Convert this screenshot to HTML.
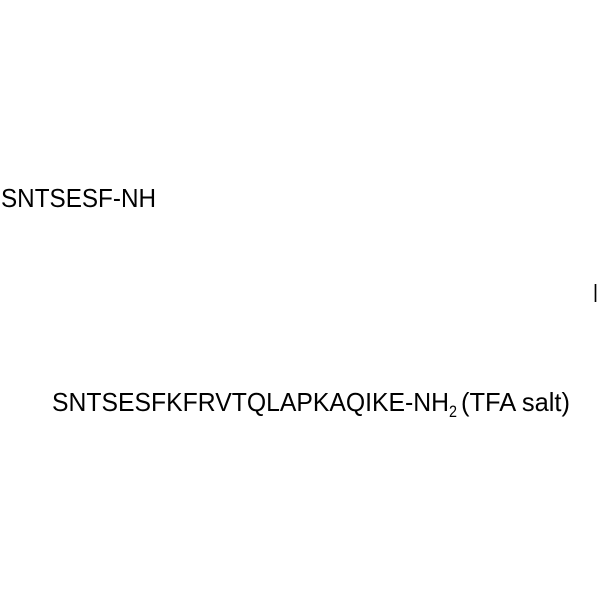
<!DOCTYPE html>
<html><head><meta charset="utf-8"><style>
html,body{margin:0;padding:0;background:#fff;width:600px;height:600px;overflow:hidden}
</style></head><body>
<svg width="600" height="600" xmlns="http://www.w3.org/2000/svg" font-family="Liberation Sans, Arial, sans-serif" font-size="26" fill="#000">
<rect width="600" height="600" fill="#fff"/>
<text x="1" y="207" textLength="155" lengthAdjust="spacingAndGlyphs">SNTSESF-NH</text>
<text x="593" y="302" textLength="5" lengthAdjust="spacingAndGlyphs">I</text>
<text x="52" y="411" textLength="397" lengthAdjust="spacingAndGlyphs">SNTSESFKFRVTQLAPKAQIKE-NH</text>
<text x="449" y="417" font-size="17" textLength="8" lengthAdjust="spacingAndGlyphs">2</text>
<text x="461" y="411" textLength="109" lengthAdjust="spacingAndGlyphs">(TFA salt)</text>
</svg>
</body></html>
